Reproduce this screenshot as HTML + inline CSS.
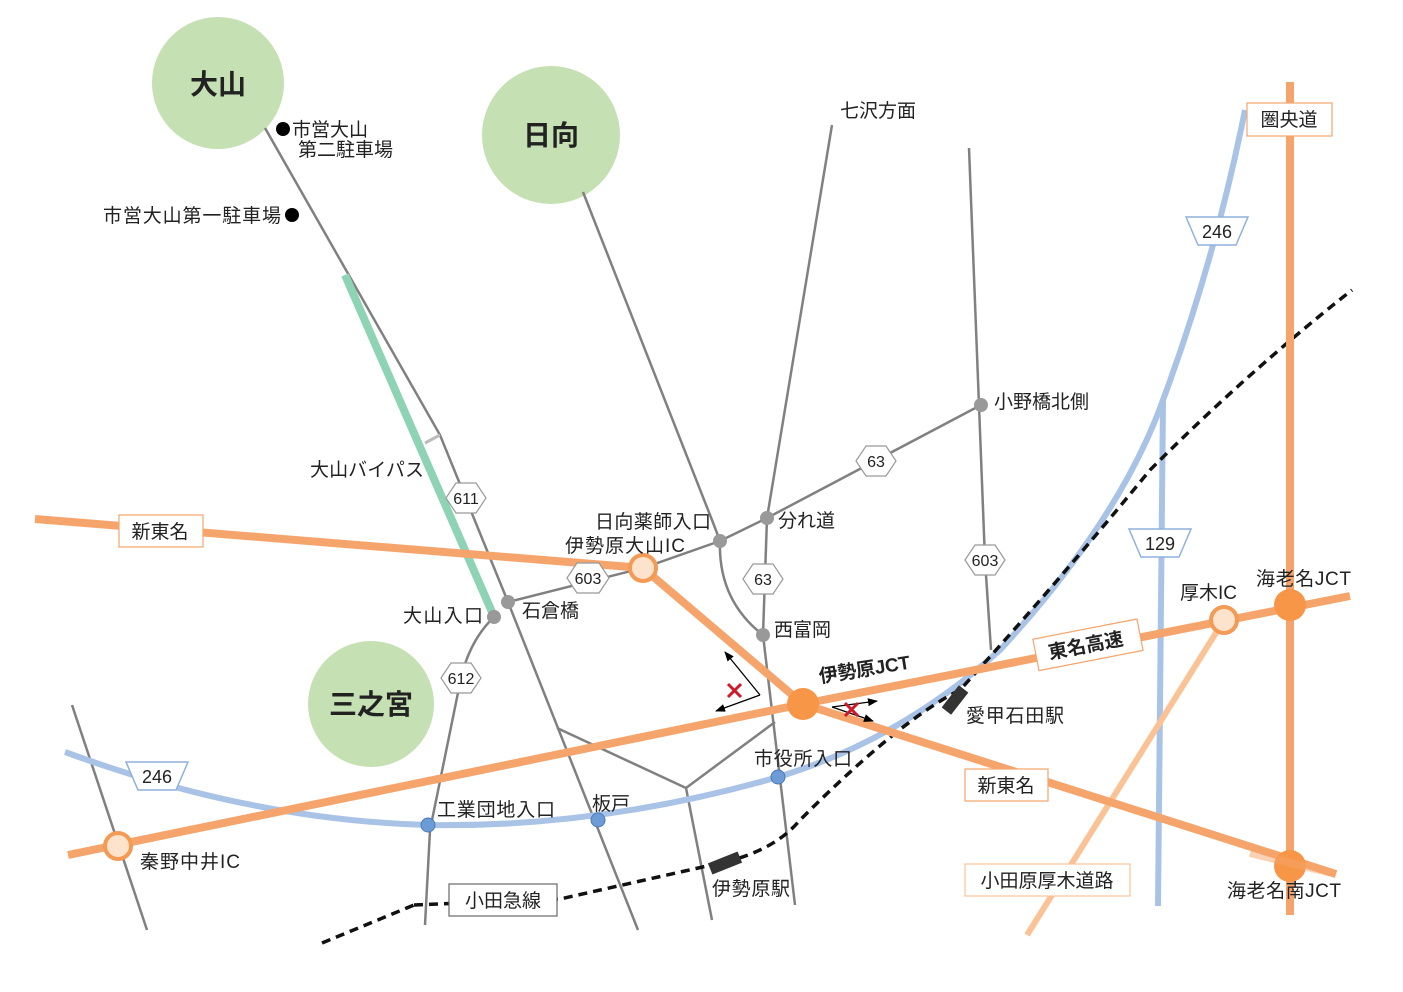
<!DOCTYPE html>
<html><head><meta charset="utf-8"><style>
html,body{margin:0;padding:0;background:#fff;}
svg{display:block;}
text{font-family:"Liberation Sans","Noto Sans CJK JP",sans-serif;fill:#222;}
</style></head><body>
<svg width="1403" height="992" viewBox="0 0 1403 992" xmlns="http://www.w3.org/2000/svg">
<defs>
<marker id="ah" markerWidth="10" markerHeight="8" refX="9" refY="4" orient="auto" markerUnits="userSpaceOnUse"><path d="M0,0 L10,4 L0,8 z" fill="#000"/></marker>
</defs>
<circle cx="218" cy="83" r="66" fill="#c5e0b3"/>
<circle cx="551" cy="135" r="69" fill="#c5e0b3"/>
<circle cx="371" cy="704" r="63" fill="#c5e0b3"/>
<text x="218" y="94" font-size="28" font-weight="bold" text-anchor="middle">大山</text>
<text x="551" y="145" font-size="28" font-weight="bold" text-anchor="middle">日向</text>
<text x="371" y="714" font-size="28" font-weight="bold" text-anchor="middle">三之宮</text>

<g stroke="#808080" stroke-width="2.5" fill="none">
<path d="M265,128 L440,435 L508,602 L638,930"/>
<path d="M494,617 Q470,640 461,678 L430,830 L425,925"/>
<path d="M508,602 L643,568 L720,541 L767,518 L981,405"/>
<path d="M583,192 L712,520 L720,541 Q718,600 763,635"/>
<path d="M832,125 L767,518 L763,635 L795,905"/>
<path d="M969,148 L985,560 L991,650"/>
<path d="M72,705 L147,930"/>
<path d="M557,728 L686,788 L712,920"/>
<path d="M686,788 L775,722"/>
</g>
<line x1="425" y1="443" x2="440" y2="435" stroke="#bbb" stroke-width="3"/>
<line x1="345" y1="275" x2="492" y2="612" stroke="#8fd3b5" stroke-width="8"/>

<path d="M65,752 Q250,820 428,825 Q600,828 778,777 Q900,740 1000,650 Q1120,520 1163,400 Q1215,260 1245,110" stroke="#a9c3e6" stroke-width="6" fill="none"/>
<line x1="1163" y1="400" x2="1158" y2="906" stroke="#a9c3e6" stroke-width="6"/>

<path d="M322,943 L414,905 M414,905 L560,899 L725,862 Q775,850 800,820 Q900,720 960,690 Q1060,580 1150,470 Q1250,370 1352,290" stroke="#111" stroke-width="3.5" stroke-dasharray="9,6" fill="none"/>

<line x1="1027" y1="935" x2="1224" y2="620" stroke="#fbc395" stroke-width="6"/>
<line x1="1290" y1="82" x2="1290" y2="915" stroke="#f5a56c" stroke-width="8"/>
<path d="M35,519 L643,568 L803,704 L1336,874" stroke="#f5a56c" stroke-width="8" fill="none"/>
<path d="M68,855 L803,704 L1350,596" stroke="#f5a56c" stroke-width="8" fill="none"/>

<rect x="-16" y="-6" width="32" height="12" fill="#333" transform="translate(725,863) rotate(-22)"/>
<rect x="-14" y="-6" width="28" height="12" fill="#333" transform="translate(955,700) rotate(-52)"/>

<g fill="#999">
<circle cx="494" cy="617" r="7"/><circle cx="508" cy="602" r="7"/>
<circle cx="720" cy="541" r="7"/><circle cx="767" cy="518" r="7"/>
<circle cx="763" cy="635" r="7"/><circle cx="981" cy="405" r="7"/>
</g>
<g fill="#6d9bd6" stroke="#4a7ab8" stroke-width="1">
<circle cx="428" cy="825" r="7"/><circle cx="598" cy="820" r="7"/><circle cx="778" cy="777" r="7"/>
</g>
<g fill="#fde3cc" stroke="#f39a55" stroke-width="4">
<circle cx="643" cy="568" r="13"/><circle cx="118" cy="846" r="13"/><circle cx="1224" cy="620" r="13"/>
</g>
<g fill="#f79646">
<circle cx="803" cy="704" r="16"/><circle cx="1290" cy="605" r="16"/><circle cx="1290" cy="866" r="16"/>
</g>
<line x1="1250" y1="853" x2="1336" y2="874" stroke="#f5a56c" stroke-width="8" opacity="0.5"/>

<g stroke="#000" stroke-width="1.3" fill="none">
<path d="M760,695 L725,652" marker-end="url(#ah)"/>
<path d="M760,695 L716,711" marker-end="url(#ah)"/>
<path d="M832,707 L877,701" marker-end="url(#ah)"/>
<path d="M832,707 L873,721" marker-end="url(#ah)"/>
</g>
<g stroke="#d0182a" stroke-width="3">
<path d="M728,684 L741,697 M741,684 L728,697"/>
<path d="M845,703 L858,716 M858,703 L845,716"/>
</g>

<g fill="#fff" stroke="#999" stroke-width="1.2">
<polygon points="446,498 456,483 476,483 486,498 476,513 456,513"/>
<polygon points="567,578 577,563 599,563 609,578 599,593 577,593"/>
<polygon points="856,461 866,446 886,446 896,461 886,476 866,476"/>
<polygon points="743,579 753,564 773,564 783,579 773,594 753,594"/>
<polygon points="965,560 975,545 995,545 1005,560 995,575 975,575"/>
<polygon points="441,678 451,663 471,663 481,678 471,693 451,693"/>
</g>
<g font-size="16" text-anchor="middle">
<text x="466" y="504">611</text><text x="588" y="584">603</text><text x="876" y="467">63</text>
<text x="763" y="585">63</text><text x="985" y="566">603</text><text x="461" y="684">612</text>
</g>
<g fill="#fff" stroke="#8fb1de" stroke-width="1.5">
<polygon points="1186,217 1248,217 1236,245 1198,245"/>
<polygon points="1129,529 1191,529 1179,557 1141,557"/>
<polygon points="126,762 188,762 176,790 138,790"/>
</g>
<g font-size="18" text-anchor="middle">
<text x="1217" y="238">246</text><text x="1160" y="550">129</text><text x="157" y="783">246</text>
</g>

<g fill="#fff" stroke="#f5a56c" stroke-width="1.2">
<rect x="119" y="515" width="84" height="32"/>
<rect x="1247" y="103" width="85" height="33"/>
<rect x="965" y="769" width="83" height="32"/>
<rect x="965" y="864" width="165" height="32" stroke="#fbc395"/>
<rect x="-52" y="-16" width="106" height="32" transform="translate(1087,645) rotate(-11)"/>
</g>
<rect x="449" y="884" width="108" height="32" fill="#fff" stroke="#666" stroke-width="1.2"/>
<g font-size="19" text-anchor="middle">
<text x="160" y="538">新東名</text>
<text x="1289" y="126">圏央道</text>
<text x="1006" y="792">新東名</text>
<text x="1047" y="887">小田原厚木道路</text>
<text x="503" y="907">小田急線</text>
<text transform="translate(1087,652) rotate(-11)" font-weight="bold" font-size="19">東名高速</text>
</g>

<g font-size="19">
<circle cx="283" cy="129" r="7" fill="#000"/>
<text x="292" y="136">市営大山</text>
<text x="298" y="156">第二駐車場</text>
<text x="103" y="222" textLength="178">市営大山第一駐車場</text>
<circle cx="292" cy="215" r="7" fill="#000"/>
<text x="840" y="117">七沢方面</text>
<text x="310" y="476" textLength="114">大山バイパス</text>
<text x="595" y="528" textLength="116">日向薬師入口</text>
<text x="565" y="552" textLength="120">伊勢原大山IC</text>
<text x="778" y="527">分れ道</text>
<text x="994" y="408">小野橋北側</text>
<text x="522" y="617">石倉橋</text>
<text x="403" y="622" textLength="80">大山入口</text>
<text x="774" y="636">西富岡</text>
<text transform="translate(820,683) rotate(-9)" font-weight="bold" textLength="92">伊勢原JCT</text>
<text x="754" y="765" textLength="98">市役所入口</text>
<text x="437" y="816" textLength="118">工業団地入口</text>
<text x="592" y="810">板戸</text>
<text x="140" y="868" textLength="100">秦野中井IC</text>
<text x="712" y="895" textLength="78">伊勢原駅</text>
<text x="966" y="722" textLength="98">愛甲石田駅</text>
<text x="1180" y="599">厚木IC</text>
<text x="1256" y="585" textLength="95">海老名JCT</text>
<text x="1227" y="897" textLength="114">海老名南JCT</text>
</g>
</svg>
</body></html>
